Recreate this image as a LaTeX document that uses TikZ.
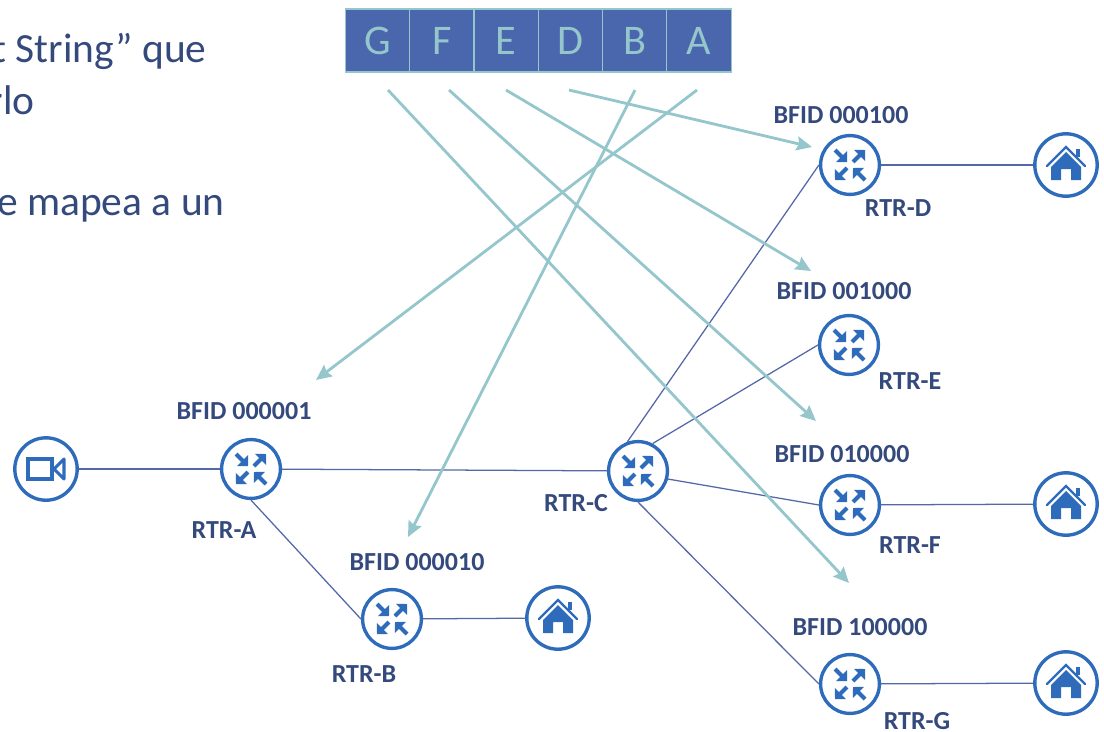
\documentclass[tikz,border=0pt]{standalone}
\usepackage{fontspec}
\setmainfont{Carlito}
\usetikzlibrary{arrows.meta}

\definecolor{iconblue}{HTML}{2E6CBB}
\definecolor{linkblue}{HTML}{5468A8}
\definecolor{labelblue}{HTML}{34497C}
\definecolor{cellblue}{HTML}{4A66AC}
\definecolor{tealish}{HTML}{94C6CC}

\newcommand{\routerarrows}[1]{%
  \foreach \sx/\sy/\ex/\ey in {-15/-15/-3/-3,3/-3/15/-15,-3/3/-15/15,15/15/3/3} {
    \begin{scope}[shift={(#1)},x=0.025cm,y=-0.025cm]
    \draw[iconblue,line width=2.8pt,-{Triangle[length=5.5pt,width=11pt]}]
      (\sx,\sy) -- (\ex,\ey);
    \end{scope}
  }
}
\newcommand{\houseicon}[1]{%
  \begin{scope}[shift={(#1)},x=0.025cm,y=-0.025cm]
  \fill[iconblue] (-15,2) -- (0,-13) -- (15,2) -- (15,15) -- (5,15) -- (5,4) -- (-5,4) -- (-5,15) -- (-15,15) -- cycle;
  \draw[iconblue,line width=1.6pt,line cap=round] (-19,1) -- (0,-18) -- (19,1);
  \fill[iconblue] (10,-16) rectangle (14,-8);
  \end{scope}
}

\begin{document}
\begin{tikzpicture}
    [
    x=0.025cm,y=-0.025cm,
    router/.style={circle,draw=iconblue,fill=white,line width=2.4pt,minimum size=1.47cm,inner sep=0pt},
    endpoint/.style={circle,draw=iconblue,fill=white,line width=2.4pt,minimum size=1.56cm,inner sep=0pt},
    link/.style={draw=linkblue,line width=0.9pt},
    bitarrow/.style={draw=tealish,line width=2pt,-{Stealth[length=11pt,width=10pt,inset=1.5pt]}},
    cell/.style={draw=tealish,fill=cellblue,line width=0.9pt,minimum width=1.607cm,minimum height=1.575cm,inner sep=0pt,text=tealish,font=\fontsize{30}{30}\selectfont},
    bfid/.style={text=labelblue,font=\fontsize{18.5}{20}\selectfont\bfseries,inner sep=0pt},
    rtr/.style={text=labelblue,font=\fontsize{18.5}{20}\selectfont\bfseries,inner sep=0pt},
    intro/.style={text=labelblue,font=\fontsize{29.5}{32}\selectfont,inner sep=0pt,anchor=base east}
    ]
\useasboundingbox (0,0) rectangle (1104,731);
\clip (0,0) rectangle (1104,731);
% text at the left
\node[intro] (line1) at (207,62) {t String” que};
\node[intro] (line2) at (35,114) {rlo};
\node[intro] (line3) at (225,215) {e mapea a un};
% bit string
\node[cell] (G) at (377.5,40.5) {G};
\node[cell] (F) at (441.8,40.5) {F};
\node[cell] (E) at (506.1,40.5) {E};
\node[cell] (D) at (570.4,40.5) {D};
\node[cell] (B) at (634.7,40.5) {B};
\node[cell] (A) at (699,40.5) {A};
% routers
\node[router] (rtrA) at (251,469) {};
\node[router] (rtrB) at (392,619) {};
\node[router] (rtrC) at (638,471) {};
\node[router] (rtrD) at (850,165) {};
\node[router] (rtrE) at (849,345) {};
\node[router] (rtrF) at (850,505) {};
\node[router] (rtrG) at (850,684) {};
% camera and homes
\node[endpoint] (cam) at (46,469) {};
\node[endpoint] (homeB) at (558,618) {};
\node[endpoint] (homeD) at (1066,165) {};
\node[endpoint] (homeF) at (1066,504) {};
\node[endpoint] (homeG) at (1066,683) {};
% links
\draw[link] (cam) -- (rtrA);
\draw[link] (rtrA) -- (rtrC);
\draw[link] (rtrA.south) -- (rtrB.west);
\draw[link] (rtrB) -- (homeB);
\draw[link] (rtrC.110) -- (rtrD.west);
\draw[link] (rtrC.62) -- (rtrE.west);
\draw[link] (rtrC.-15) -- (rtrF.west);
\draw[link] (rtrC.south) -- (rtrG.west);
\draw[link] (rtrD) -- (homeD);
\draw[link] (rtrF) -- (homeF);
\draw[link] (rtrG) -- (homeG);
% icons
\foreach \r in {rtrA,rtrB,rtrC,rtrD,rtrE,rtrF,rtrG} {\routerarrows{\r}}
\foreach \h in {homeB,homeD,homeF,homeG} {\houseicon{\h}}
\begin{scope}[shift={(cam)}]
\draw[iconblue,line width=2.2pt] (-18,-10) rectangle (6,10);
\draw[iconblue,line width=2.2pt,line join=round] (18,-10) -- (8,0) -- (18,10) -- cycle;
\end{scope}
% labels
\node[bfid] (bfidA) at (244,411) {BFID 000001};
\node[bfid] (bfidB) at (417,562) {BFID 000010};
\node[bfid] (bfidD) at (841,115) {BFID 000100};
\node[bfid] (bfidE) at (844,291) {BFID 001000};
\node[bfid] (bfidF) at (842,454) {BFID 010000};
\node[bfid] (bfidG) at (860,627) {BFID 100000};
\node[rtr] (nameA) at (224,530) {RTR-A};
\node[rtr] (nameB) at (364,674) {RTR-B};
\node[rtr] (nameC) at (576,503) {RTR-C};
\node[rtr] (nameD) at (898,208) {RTR-D};
\node[rtr] (nameE) at (910,381) {RTR-E};
\node[rtr] (nameF) at (910,545) {RTR-F};
\node[rtr] (nameG) at (917,721) {RTR-G};
% arrows from the bit string
\coordinate (startG) at (388,90);
\coordinate (startF) at (449,90);
\coordinate (startE) at (506,90);
\coordinate (startD) at (569,90);
\coordinate (startB) at (635,90);
\coordinate (startA) at (697,90);
\coordinate (endG) at (849,583);
\coordinate (endF) at (816,421);
\coordinate (endE) at (811,271);
\coordinate (endD) at (812,147);
\coordinate (endB) at (408,537);
\coordinate (endA) at (316,380);
\draw[bitarrow] (startG) -- (endG);
\draw[bitarrow] (startF) -- (endF);
\draw[bitarrow] (startE) -- (endE);
\draw[bitarrow] (startD) -- (endD);
\draw[bitarrow] (startB) -- (endB);
\draw[bitarrow] (startA) -- (endA);
\end{tikzpicture}
\end{document}
